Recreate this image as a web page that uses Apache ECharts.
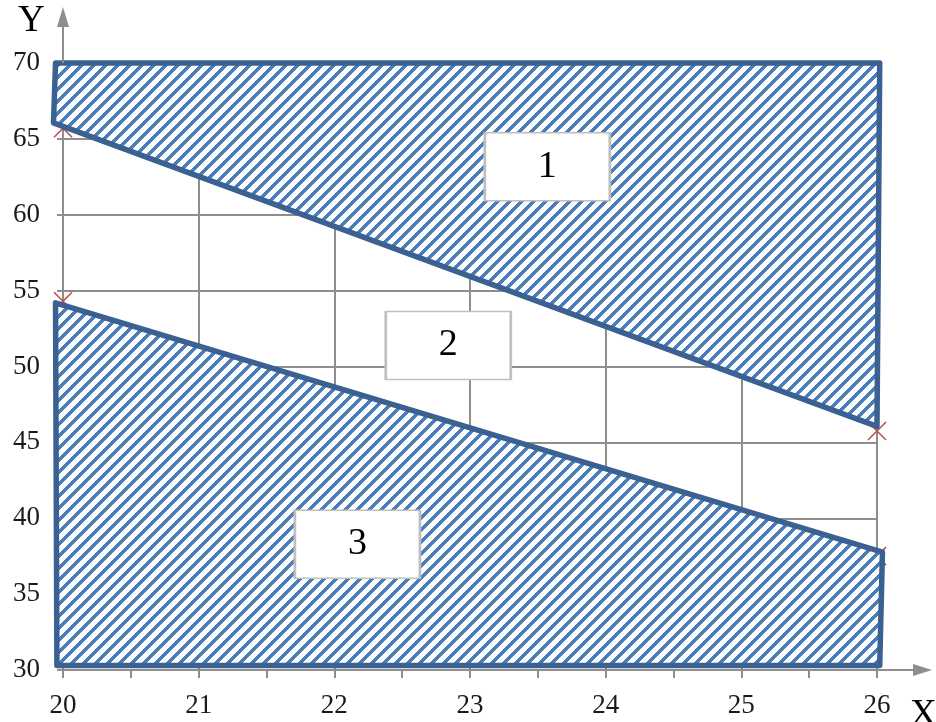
<!DOCTYPE html>
<html>
<head>
<meta charset="utf-8">
<script src="https://cdn.jsdelivr.net/npm/echarts@6.0.0/dist/echarts.min.js"></script>
<style>
  html, body { margin: 0; padding: 0; background: #fff; }
  #chart { width: 936px; height: 722px; }
</style>
</head>
<body>
<div id="chart"></div>
<script>
// region outlines (x, y)
var region1 = [[19.945, 70], [26.02, 70], [26.0, 46.05], [19.93, 66.05]]
var region3 = [[19.945, 54.2], [26.04, 37.76], [26.02, 30.3], [19.955, 30.3]]

// red crosses where the boundary lines meet x = 20 and x = 26
var crossX = [20, 20, 26, 26]
var crossY = [65.7, 54.3, 45.75, 37.5]

// numbered boxes
var boxNames = ['1', '2', '3']
var boxX = [23.57, 22.84, 22.17]
var boxY = [63.16, 51.39, 38.28]

var FONT = '"Liberation Serif", "DejaVu Serif", serif'

function stripes() {
  var n = 12
  var c = document.createElement('canvas')
  c.width = n
  c.height = n
  var ctx = c.getContext('2d')
  var img = ctx.createImageData(n, n)
  for (var y = 0; y < n; y++) {
    for (var x = 0; x < n; x++) {
      var i = (y * n + x) * 4
      var on = (x + y) % n < 5
      img.data[i] = on ? 74 : 255
      img.data[i + 1] = on ? 126 : 255
      img.data[i + 2] = on ? 187 : 255
      img.data[i + 3] = 255
    }
  }
  ctx.putImageData(img, 0, 0)
  return c
}

var hatch = { image: stripes(), repeat: 'repeat' }

function regionSeries(verts) {
  return {
    type: 'custom',
    z: 4,
    data: verts,
    encode: { x: 0, y: 1 },
    renderItem: function(params, api) {
      if (params.dataIndex !== 0) return
      var pts = verts.map(function(p) { return api.coord(p) })
      return {
        type: 'polygon',
        shape: { points: pts },
        style: { fill: hatch, stroke: '#3a6192', lineWidth: 5.5, lineJoin: 'round' }
      }
    }
  }
}

var chart = echarts.init(document.getElementById('chart'))

var axisGray = '#8e8e8e'

chart.setOption({
  animation: false,
  grid: { left: 63, right: 59, top: 63, bottom: 52 },
  xAxis: {
    type: 'value',
    min: 20,
    max: 26,
    interval: 1,
    axisLine: { lineStyle: { color: axisGray, width: 2 } },
    axisTick: { length: 8, lineStyle: { color: axisGray, width: 2 } },
    minorTick: { show: true, splitNumber: 2, length: 8, lineStyle: { color: axisGray, width: 2 } },
    splitLine: { show: true, lineStyle: { color: axisGray, width: 2 } },
    axisLabel: { margin: 22, fontFamily: FONT, fontSize: 27, color: '#1a1a1a' }
  },
  yAxis: {
    type: 'value',
    min: 30,
    max: 70,
    interval: 5,
    axisLine: { show: true, lineStyle: { color: axisGray, width: 2 } },
    axisTick: { show: true, length: 6, lineStyle: { color: axisGray, width: 2 } },
    splitLine: { show: true, lineStyle: { color: axisGray, width: 2 } },
    axisLabel: { margin: 23, fontFamily: FONT, fontSize: 27, color: '#1a1a1a' }
  },
  series: [
    {
      type: 'scatter',
      z: 3,
      symbol: 'path://M0,0L10,10M10,0L0,10',
      symbolSize: 18,
      itemStyle: { color: 'none', borderColor: '#c0504d', borderWidth: 1.6, opacity: 1 },
      data: crossX.map(function(x, i) { return [x, crossY[i]] })
    },
    regionSeries(region1),
    regionSeries(region3),
    {
      type: 'scatter',
      z: 5,
      symbol: 'rect',
      symbolSize: [125, 68],
      itemStyle: { color: '#fff', borderColor: '#bfbfbf', borderWidth: 2, opacity: 1 },
      label: {
        show: true,
        position: 'inside',
        formatter: '{b}',
        fontFamily: FONT,
        fontSize: 38,
        color: '#000'
      },
      data: boxNames.map(function(n, i) { return { name: n, value: [boxX[i], boxY[i]] } })
    }
  ]
})

// axis arrows run past the plot, plus the X / Y captions
var o = chart.convertToPixel({ gridIndex: 0 }, [26, 30])
var t = chart.convertToPixel({ gridIndex: 0 }, [20, 70])
chart.setOption({
  graphic: [
    { type: 'line', z: 10, shape: { x1: o[0], y1: o[1], x2: o[0] + 38, y2: o[1] }, style: { stroke: axisGray, lineWidth: 2 } },
    { type: 'polygon', z: 10, shape: { points: [[o[0] + 36, o[1] - 6], [o[0] + 55, o[1]], [o[0] + 36, o[1] + 6]] }, style: { fill: axisGray } },
    { type: 'line', z: 10, shape: { x1: t[0], y1: t[1], x2: t[0], y2: t[1] - 38 }, style: { stroke: axisGray, lineWidth: 2 } },
    { type: 'polygon', z: 10, shape: { points: [[t[0] - 6, t[1] - 36], [t[0], t[1] - 56], [t[0] + 6, t[1] - 36]] }, style: { fill: axisGray } },
    { type: 'text', left: 18, top: 3, style: { text: 'Y', font: '37px ' + FONT, fill: '#000' } },
    { type: 'text', left: 910, top: 697, style: { text: 'X', font: '37px ' + FONT, fill: '#000' } }
  ]
})
</script>
</body>
</html>
